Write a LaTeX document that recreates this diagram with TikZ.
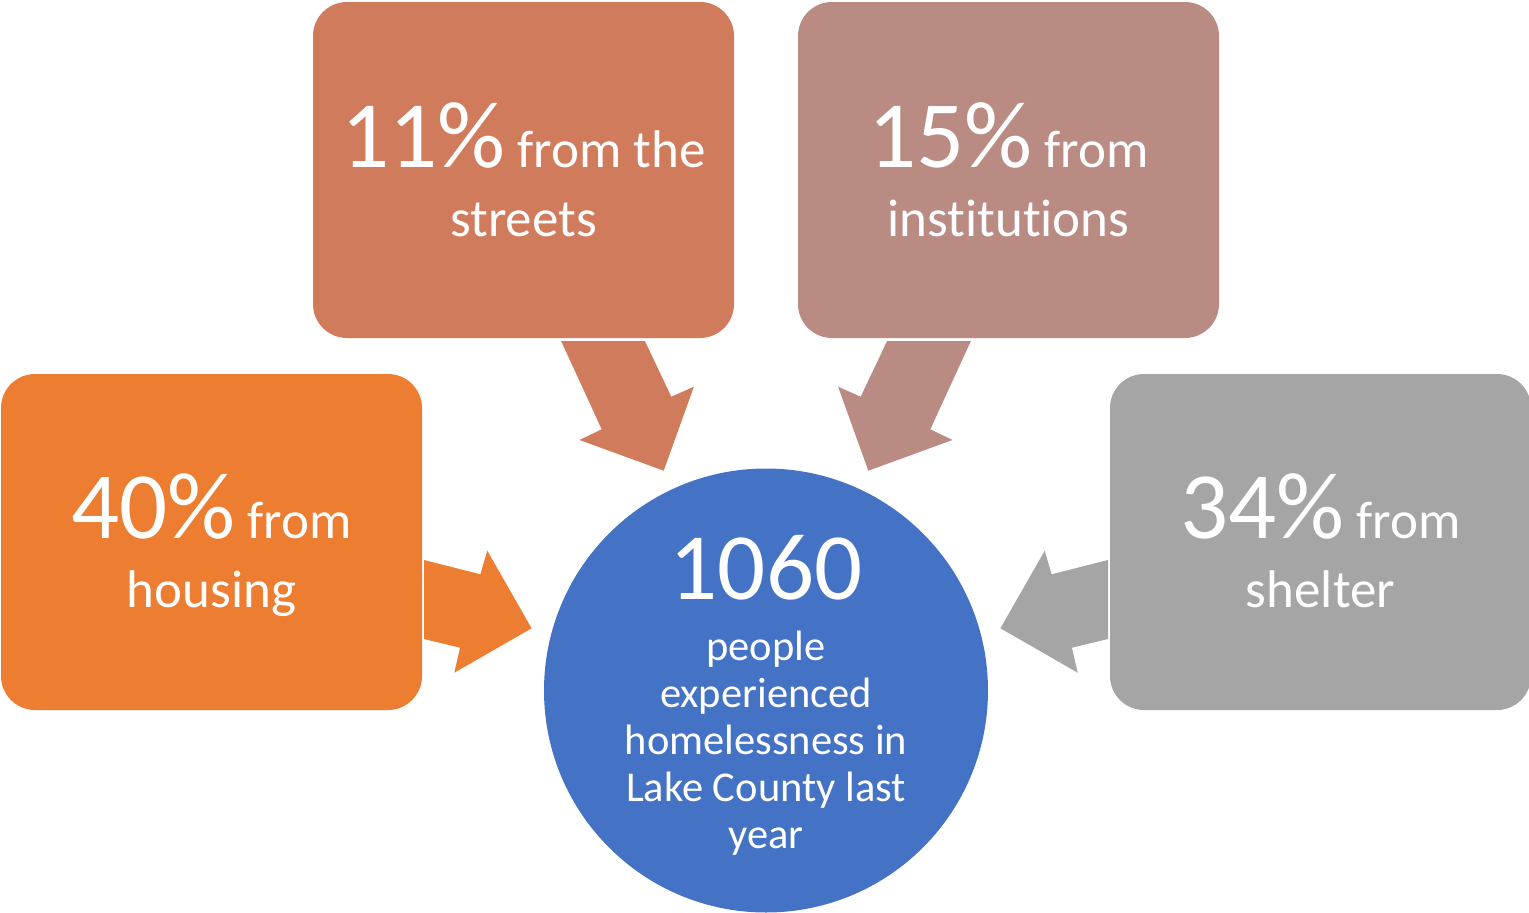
\documentclass[tikz,border=0pt]{standalone}
\usepackage{fontspec}
\setmainfont{Carlito}[Ligatures=NoCommon]
\usepackage{color}
\usepackage{tikz}
\definecolor{housingorange}{RGB}{237,125,49}
\definecolor{streetsred}{RGB}{209,123,93}
\definecolor{instrose}{RGB}{186,139,130}
\definecolor{sheltergray}{RGB}{165,165,165}
\definecolor{countyblue}{RGB}{68,114,196}
\tikzset{
  srcbox/.style={rectangle,rounded corners=34pt,minimum width=421pt,minimum height=336pt,inner sep=0pt},
  srctext/.style={text=white,align=center,anchor=base,inner sep=0pt,font=\fontsize{53}{69}\selectfont},
}
\newcommand{\pctnum}[1]{{\fontsize{95}{95}\selectfont #1}}
\begin{document}
\begin{tikzpicture}[x=1pt,y=-1pt]
\useasboundingbox (0,0) rectangle (1529,913);
\node [srcbox,fill=housingorange] (housing) at(211.5,542){};
\node [srcbox,fill=streetsred] (streets) at(523.5,170){};
\node [srcbox,fill=instrose] (inst) at(1008.5,170){};
\node [srcbox,fill=sheltergray] (shelter) at(1320.5,542){};
\node [circle,fill=countyblue,minimum size=444pt,inner sep=0pt] (county) at(766,690.5){};
% base = baseline of the last line
\node [srctext] (housingtxt) at(211.5,607.5){\pctnum{40\%} from\\housing};
\node [srctext] (streetstxt) at(523.5,236){\pctnum{11\%} from the\\streets};
\node [srctext] (insttxt) at(1008.5,236){\pctnum{15\%} from\\institutions};
\node [srctext] (sheltertxt) at(1320.5,607.5){\pctnum{34\%} from\\shelter};
\node [srctext,font=\fontsize{42.5}{47}\selectfont] (countytxt) at(766,848){\pctnum{1060}\\[14pt]people\\experienced\\homelessness in\\Lake County last\\year};
% block arrows into the circle
\fill[housingorange] (424,560) -- (480.4,574.3) -- (487.3,550.7) -- (531.6,628.3) -- (454.3,672.7) -- (460.1,647.7) -- (424,639) -- cycle;
\fill[streetsred] (561.1,341) -- (644.9,341) -- (671.3,396.7) -- (693.9,386.7) -- (663.7,470.7) -- (579.5,440) -- (601.7,429.3) -- cycle;
\fill[instrose] (970.9,341) -- (887.1,341) -- (860.7,396.7) -- (838.1,386.7) -- (868.3,470.7) -- (952.5,440) -- (930.3,429.3) -- cycle;
\fill[sheltergray] (1108,560) -- (1051.6,574.3) -- (1044.7,550.7) -- (1000.4,628.3) -- (1077.7,672.7) -- (1071.9,647.7) -- (1108,639) -- cycle;
\end{tikzpicture}
\end{document}
